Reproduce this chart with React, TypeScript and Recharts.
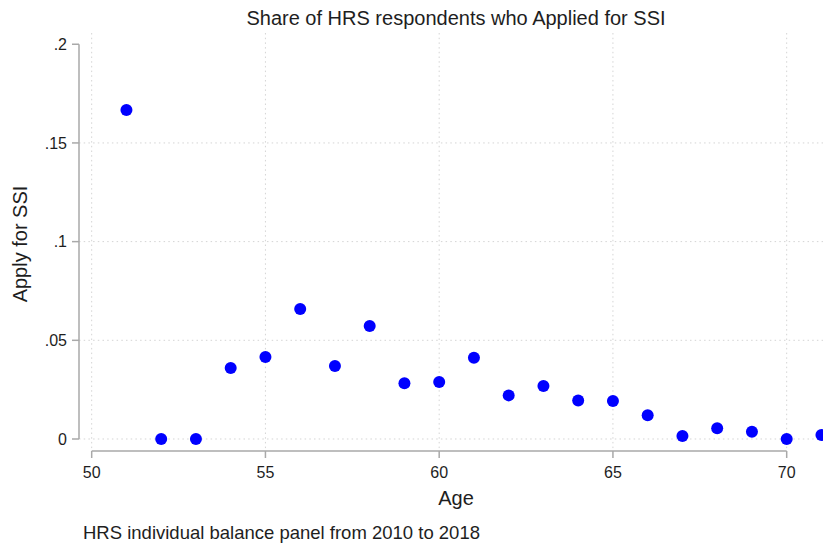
import { ScatterChart, Scatter, XAxis, YAxis, CartesianGrid, ReferenceLine } from 'recharts';

const ages = [51, 52, 53, 54, 55, 56, 57, 58, 59, 60, 61, 62, 63, 64, 65, 66, 67, 68, 69, 70, 71];
const applyShare = [
  0.1667, 0, 0, 0.036, 0.0415, 0.0659, 0.037, 0.0573, 0.0282, 0.0289, 0.0412,
  0.0221, 0.0269, 0.0195, 0.0193, 0.012, 0.0015, 0.0054, 0.0037, 0, 0.002,
];
const xTicks = [50, 55, 60, 65, 70];
const yTicks = [0, 0.05, 0.1, 0.15, 0.2];
const yTickLabels = ['0', '.05', '.1', '.15', '.2'];

const X_MIN = 49.635;
const X_MAX = 71.045;
const Y_MIN = -0.00608;
const Y_MAX = 0.2057;

const points = ages.map((age, i) => ({ age, share: applyShare[i] }));

const font = '"Liberation Sans", Arial, sans-serif';
const axisGray = '#a9a9a9';
const textColor = '#1e1e1e';

// stata style solid dot
const Dot = (props: any) => <circle cx={props.cx} cy={props.cy} r={6} fill="#0000ff" />;

const App = () => {
  return (
    <div style={{ position: 'absolute', left: 0, top: 0, width: 823, height: 543, background: '#fff', fontFamily: font }}>
      <ScatterChart width={823} height={543} margin={{ top: 33, right: 0, bottom: 32, left: 0 }}>
        <CartesianGrid
          stroke="#d4d4d4"
          strokeDasharray="1.5 3.2"
          horizontalValues={[0, 0.05, 0.1, 0.15]}
          verticalValues={xTicks}
        />
        <XAxis
          type="number"
          dataKey="age"
          domain={[X_MIN, X_MAX]}
          ticks={xTicks}
          allowDataOverflow
          height={60}
          axisLine={false}
          tickLine={{ stroke: axisGray, strokeWidth: 1.5 }}
          tickSize={7}
          tickMargin={9}
          tick={{ fill: textColor, fontSize: 16, fontFamily: font }}
        />
        <YAxis
          type="number"
          dataKey="share"
          domain={[Y_MIN, Y_MAX]}
          ticks={yTicks}
          allowDataOverflow
          width={79}
          axisLine={false}
          tickLine={{ stroke: axisGray, strokeWidth: 1.5 }}
          tickSize={7}
          tickMargin={5}
          tickFormatter={(v: number) => yTickLabels[yTicks.indexOf(v)] ?? String(v)}
          tick={{ fill: textColor, fontSize: 16, fontFamily: font }}
        />
        <ReferenceLine
          segment={[{ x: 50, y: Y_MIN }, { x: 70, y: Y_MIN }]}
          stroke={axisGray}
          strokeWidth={1.5}
          ifOverflow="visible"
        />
        <ReferenceLine
          segment={[{ x: X_MIN, y: 0 }, { x: X_MIN, y: 0.2 }]}
          stroke={axisGray}
          strokeWidth={1.5}
          ifOverflow="visible"
        />
        <Scatter data={points} fill="#0000ff" shape={Dot} isAnimationActive={false} />
        <text x={456} y={25} textAnchor="middle" fontSize={20} fill={textColor} fontFamily={font}>
          Share of HRS respondents who Applied for SSI
        </text>
        <text x={456} y={505} textAnchor="middle" fontSize={20} fill={textColor} fontFamily={font}>
          Age
        </text>
        <text
          x={27}
          y={244}
          textAnchor="middle"
          fontSize={20}
          fill={textColor}
          fontFamily={font}
          transform="rotate(-90 27 244)"
        >
          Apply for SSI
        </text>
        <text x={83} y={539} fontSize={18.5} fill={textColor} fontFamily={font}>
          HRS individual balance panel from 2010 to 2018
        </text>
      </ScatterChart>
    </div>
  );
};

export default App;
